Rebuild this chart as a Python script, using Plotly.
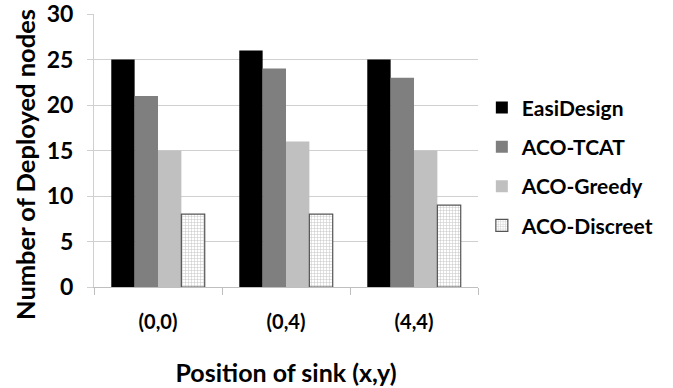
import plotly.graph_objects as go

categories = ["(0,0)", "(0,4)", "(4,4)"]
easidesign = [25, 26, 25]
aco_tcat = [21, 24, 23]
aco_greedy = [15, 16, 15]
aco_discreet = [8, 8, 9]

FONT = "Lato"

fig = go.Figure()
fig.add_trace(go.Bar(name="<b>EasiDesign</b>", x=categories, y=easidesign,
                     marker=dict(color="#000000", line=dict(width=0)), legendgroup="a"))
fig.add_trace(go.Bar(name="<b>ACO-TCAT</b>", x=categories, y=aco_tcat,
                     marker=dict(color="#7f7f7f", line=dict(width=0)), legendgroup="b"))
fig.add_trace(go.Bar(name="<b>ACO-Greedy</b>", x=categories, y=aco_greedy,
                     marker=dict(color="#c0c0c0", line=dict(width=0)), legendgroup="c"))
fig.add_trace(go.Bar(name="<b>ACO-Discreet</b>", x=categories, y=aco_discreet,
                     marker=dict(color="#ffffff", line=dict(width=1.2, color="#555555"),
                                 pattern=dict(shape="+", size=3, solidity=0.3,
                                              fgcolor="#888888", bgcolor="#ffffff")),
                     legendgroup="d"))

fig.update_layout(
    width=673, height=388,
    margin=dict(l=94, r=195, t=14, b=101, autoexpand=False),
    paper_bgcolor="white", plot_bgcolor="white",
    barmode="group", bargap=0.27, bargroupgap=0,
    font=dict(family=FONT, color="#000000", size=20),
    showlegend=True,
    legend=dict(x=1.01, xanchor="left", y=0.44, yanchor="middle",
                font=dict(family=FONT, size=21, color="#000000"),
                traceorder="grouped", tracegroupgap=9,
                bgcolor="rgba(0,0,0,0)"),
    xaxis=dict(
        type="category",
        title=dict(text="<b>Position of sink (x,y)</b>", font=dict(family=FONT, size=25), standoff=32),
        tickfont=dict(family=FONT, size=20),
        tickprefix="<b>", ticksuffix="</b>",
        ticklabelstandoff=17,
        showline=True, linecolor="#bfbfbf", linewidth=1,
        ticks="outside", tickson="boundaries", ticklen=7, tickcolor="#bfbfbf",
        showgrid=False,
    ),
    yaxis=dict(
        range=[0, 30], dtick=5,
        tickfont=dict(family=FONT, size=23),
        tickprefix="<b>", ticksuffix="</b>",
        ticklabeloverflow="allow",
        showgrid=True, gridcolor="#d0d0d0", gridwidth=1,
        showline=True, linecolor="#d0d0d0", linewidth=1,
        ticks="outside", ticklen=6, tickcolor="#d0d0d0",
        ticklabelstandoff=9,
        zeroline=False,
    ),
    annotations=[dict(
        text="<b>Number of Deployed nodes</b>", textangle=-90,
        xref="paper", yref="paper", x=-0.18, y=0.45,
        xanchor="center", yanchor="middle", showarrow=False,
        font=dict(family=FONT, size=25.5, color="#000000"),
    )],
)

fig.write_html("out.html")
